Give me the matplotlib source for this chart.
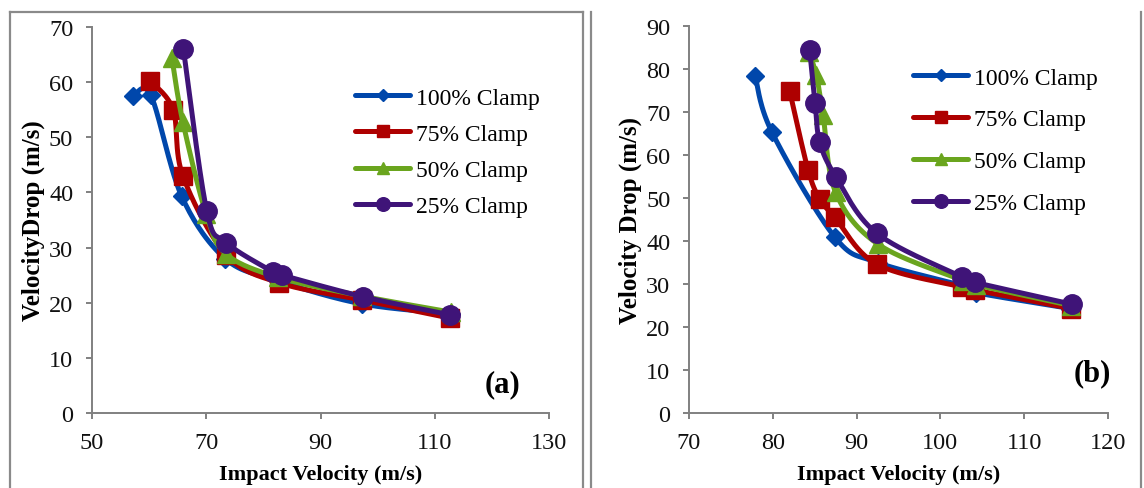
import numpy as np
import matplotlib
matplotlib.use("Agg")
import matplotlib.pyplot as plt
from matplotlib.lines import Line2D

plt.rcParams['font.family'] = ['Liberation Serif', 'DejaVu Serif']

labels = ["100% Clamp", "75% Clamp", "50% Clamp", "25% Clamp"]

# Panel (a): impact velocity (m/s) and velocity drop (m/s) per clamp level
a_v100 = [57.2, 60.3, 65.7, 73.3, 82.5, 97.2, 112.8]
a_d100 = [57.4, 57.6, 39.3, 28.0, 24.0, 19.8, 18.0]
a_v75 = [60.2, 64.2, 65.9, 73.5, 82.8, 97.2, 112.7]
a_d75 = [60.2, 55.0, 43.0, 28.7, 23.6, 20.5, 17.2]
a_v50 = [64.0, 65.9, 70.0, 73.5, 82.6, 97.3, 112.8]
a_d50 = [64.3, 52.8, 36.0, 28.8, 24.6, 21.2, 18.3]
a_v25 = [66.0, 70.1, 73.5, 81.7, 83.3, 97.4, 112.7]
a_d25 = [66.0, 36.6, 30.9, 25.6, 25.0, 21.1, 17.8]

# Panel (b)
b_v100 = [77.9, 79.9, 87.4, 92.5, 102.8, 104.2, 115.5]
b_d100 = [78.3, 65.3, 40.9, 35.0, 29.5, 28.0, 24.3]
b_v75 = [82.0, 84.2, 85.6, 87.4, 92.4, 102.6, 104.1, 115.6]
b_d75 = [75.0, 56.6, 49.8, 45.5, 34.6, 29.3, 28.6, 24.3]
b_v50 = [84.3, 85.2, 86.0, 87.5, 92.6, 102.7, 104.2, 115.6]
b_d50 = [84.0, 78.5, 69.3, 51.3, 39.2, 30.8, 29.8, 25.0]
b_v25 = [84.4, 85.05, 85.6, 87.5, 92.4, 102.6, 104.1, 115.7]
b_d25 = [84.4, 72.0, 63.0, 55.0, 41.8, 31.6, 30.4, 25.3]

a_xticks = [50, 70, 90, 110, 130]
a_yticks = [0, 10, 20, 30, 40, 50, 60, 70]
b_xticks = [70, 80, 90, 100, 110, 120]
b_yticks = [0, 10, 20, 30, 40, 50, 60, 70, 80, 90]

colors = ['#0047AB', '#AE0000', '#6AA51E', '#3F1478']
markers = ['D', 's', '^', 'o']
msizes = [9, 12.5, 13, 14]

W, H = 1144, 489
fig = plt.figure(figsize=(W / 100, H / 100), dpi=100)
fig.patch.set_facecolor('white')


def px_axes(x0, y0, x1, y1):
    return fig.add_axes([x0 / W, 1 - y1 / H, (x1 - x0) / W, (y1 - y0) / H])


def smooth(ax, x, y, n=30):
    pts = ax.transData.transform(np.column_stack([x, y]))
    p = np.vstack([pts[0], pts, pts[-1]])
    out = []
    t = np.linspace(0, 1, n)[:, None]
    for i in range(1, len(p) - 2):
        p0, p1, p2, p3 = p[i - 1], p[i], p[i + 1], p[i + 2]
        c1 = p1 + (p2 - p0) / 6
        c2 = p2 - (p3 - p1) / 6
        seg = (1 - t) ** 3 * p1 + 3 * (1 - t) ** 2 * t * c1 + 3 * (1 - t) * t ** 2 * c2 + t ** 3 * p2
        out.append(seg if i == 1 else seg[1:])
    return ax.transData.inverted().transform(np.vstack(out))


def panel(ax, series, xlim, xticks, ylim, yticks, ylabel, tag, tagpos,
          leg_anchor, leg_spacing):
    ax.set_xlim(*xlim)
    ax.set_ylim(*ylim)
    ax.set_xticks(xticks)
    ax.set_yticks(yticks)
    for s in ['top', 'right']:
        ax.spines[s].set_visible(False)
    for s in ['left', 'bottom']:
        ax.spines[s].set_color('#808080')
        ax.spines[s].set_linewidth(1.4)
    ax.tick_params(direction='out', length=4.5, width=1.4, color='#808080',
                   labelsize=17.5, pad=9, labelcolor='#111111')
    ax.set_xlabel('Impact Velocity (m/s)', fontsize=16, fontweight='bold', labelpad=8)
    ax.set_ylabel(ylabel, fontsize=18, fontweight='bold', labelpad=3)
    handles = []
    for k, (x, y) in enumerate(series):
        c = colors[k]
        curve = smooth(ax, x, y)
        ax.plot(curve[:, 0], curve[:, 1], color=c, lw=3.6, zorder=2 + k,
                solid_capstyle='round', solid_joinstyle='round')
        ax.plot(x, y, linestyle='none', marker=markers[k], ms=msizes[k],
                color=c, mec=c, zorder=2 + k, clip_on=False)
        handles.append(Line2D([], [], color=c, lw=3.6, marker=markers[k],
                              ms=msizes[k] * 0.7, mec=c,
                              solid_capstyle='round'))
    ax.legend(handles, labels, loc='upper left', bbox_to_anchor=leg_anchor,
              bbox_transform=fig.transFigure, frameon=False, fontsize=17,
              handlelength=2.35, handletextpad=0.22, labelspacing=leg_spacing,
              borderpad=0, borderaxespad=0)
    ax.text(tagpos[0] / W, 1 - tagpos[1] / H, tag, transform=fig.transFigure,
            fontsize=22, fontweight='bold', ha='center', va='center')


ax1 = px_axes(92, 28, 549, 414)
panel(ax1, [(a_v100, a_d100), (a_v75, a_d75), (a_v50, a_d50), (a_v25, a_d25)],
      (50, 130), a_xticks, (0, 70), a_yticks, 'VelocityDrop (m/s)', '(a)',
      (503, 385), (355 / W, 1 - 88 / H), 0.62)

ax2 = px_axes(689, 27, 1108, 414)
panel(ax2, [(b_v100, b_d100), (b_v75, b_d75), (b_v50, b_d50), (b_v25, b_d25)],
      (70, 120), b_xticks, (0, 90), b_yticks, 'Velocity Drop (m/s)', '(b)',
      (1092, 374), (913 / W, 1 - 68 / H), 0.86)

# Panel frames
frame = dict(color='#8a8a8a', lw=1.6, transform=fig.transFigure)


def fline(x0, y0, x1, y1):
    fig.add_artist(Line2D([x0 / W, x1 / W], [1 - y0 / H, 1 - y1 / H], **frame))


fline(10, 13, 10, 489)
fline(10, 13, 583, 13)
fline(583, 13, 583, 489)
fline(591, 13, 591, 489)
fline(1141, 13, 1141, 489)

fig.savefig('out.png', dpi=100, facecolor='white')
